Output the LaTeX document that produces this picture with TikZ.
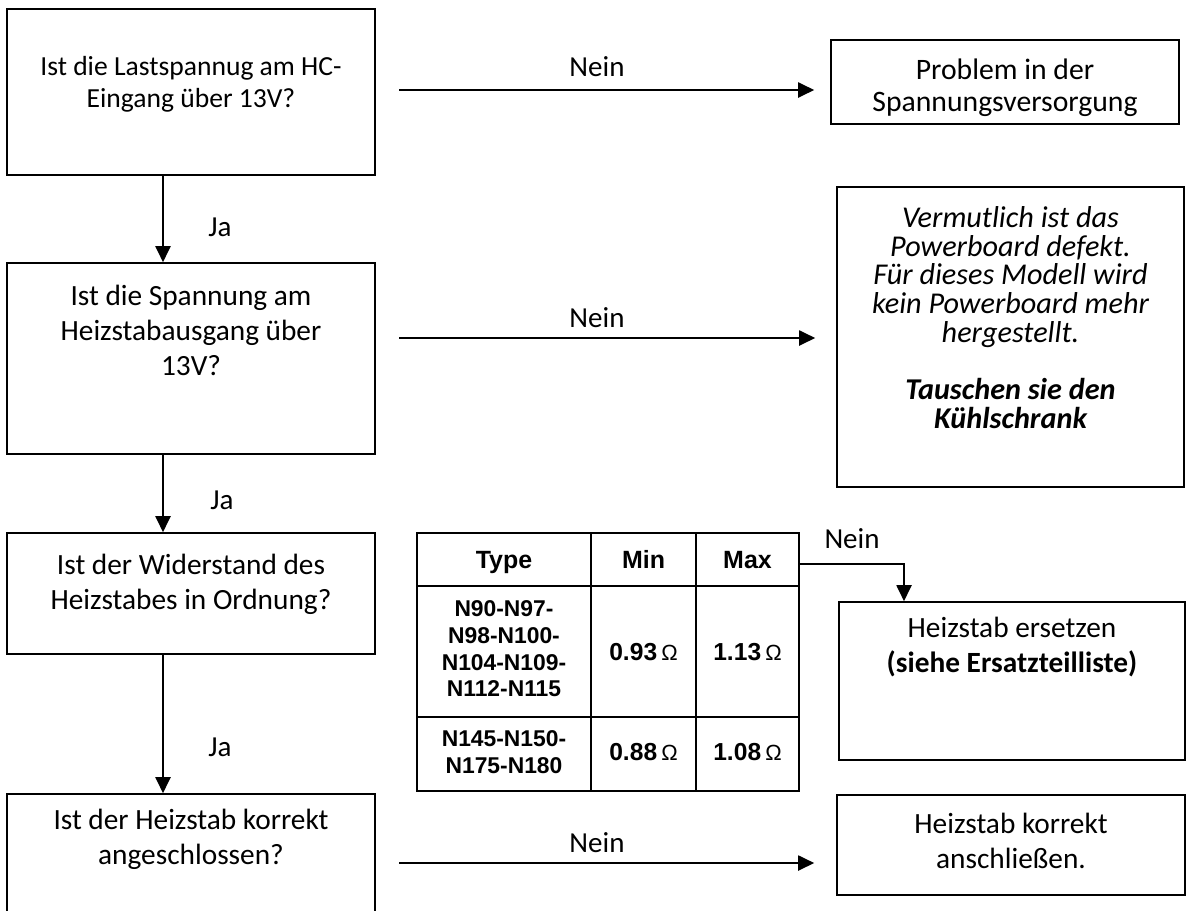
\documentclass[tikz,border=0pt]{standalone}
\usepackage{fontspec}
\setmainfont{Carlito}
\newfontfamily\tabfont{Liberation Sans}
\usetikzlibrary{arrows.meta,calc}
\tikzset{
  qbox/.style 2 args={draw,line width=0.9pt,minimum width=#1*0.02cm,minimum height=#2*0.02cm,inner sep=0pt},
  qtxt/.style={align=center,font=\fontsize{16.7}{19.9}\selectfont,inner sep=0pt},
  qtxtS/.style={align=center,font=\fontsize{15.7}{18.2}\selectfont,inner sep=0pt},
  qital/.style={align=center,font=\fontsize{17.2}{16.3}\selectfont\itshape,inner sep=0pt},
  qlab/.style={font=\fontsize{16.5}{19}\selectfont,inner sep=0pt},
  qarr/.style={-{Triangle[length=3.2mm,width=3mm]},line width=1.1pt},
  tcell/.style={align=center,font=\tabfont\bfseries\fontsize{13}{15.2}\selectfont,inner sep=0pt},
  thead/.style={anchor=base,font=\tabfont\bfseries\fontsize{14.2}{16}\selectfont,inner sep=0pt},
  tval/.style={anchor=base,font=\tabfont\bfseries\fontsize{14}{16}\selectfont,inner sep=0pt},
  tline/.style={line width=1.3pt},
}
\newcommand{\ohm}{{\fontsize{12.5}{12.5}\selectfont\mdseries Ω}}

\begin{document}
\begin{tikzpicture}[x=0.02cm,y=-0.02cm]
\useasboundingbox (0,0) rectangle (1186,910);
\clip (0,0) rectangle (1186,910);
\fill[white] (0,0) rectangle (1186,910);
% ---- question column
\node[qbox={368}{166}] (q1) at (191,92) {};
\node[qtxtS] (q1t) at (191,84) {Ist die Lastspannug am HC-\\Eingang über 13V?};
\node[qbox={368}{191}] (q2) at (191,358.5) {};
\node[qtxt] (q2t) at (191,330) {Ist die Spannung am\\Heizstabausgang über\\13V?};
\node[qbox={368}{121}] (q3) at (191,593.5) {};
\node[qtxt] (q3t) at (191,584.5) {Ist der Widerstand des\\Heizstabes in Ordnung?};
\node[qbox={368}{200}] (q4) at (191,894) {};
\node[qtxt] (q4t) at (191,839.5) {Ist der Heizstab korrekt\\angeschlossen?};
% ---- answer column
\node[qbox={348}{84}] (r1) at (1005,82) {};
\node[qtxtS,font=\fontsize{16.9}{18}\selectfont] (r1t) at (1005,87.5) {Problem in der\\Spannungsversorgung};
\node[qbox={347}{300}] (r2) at (1010.5,337) {};
\node[qital] (r2t) at (1010.5,317.5) {Vermutlich ist das\\Powerboard defekt.\\Für dieses Modell wird\\kein Powerboard mehr\\hergestellt.\\[16.3pt]\textbf{Tauschen sie den}\\\textbf{Kühlschrank}};
\node[qbox={346}{158}] (r3) at (1012,681) {};
\node[qtxt] (r3t) at (1012,647.5) {Heizstab ersetzen\\\textbf{(siehe Ersatzteilliste)}};
\node[qbox={348}{100}] (r4) at (1011,845) {};
\node[qtxt] (r4t) at (1011,840.5) {Heizstab korrekt\\anschließen.};
% ---- the resistance table
\node[draw,tline,minimum width=382*0.02cm,minimum height=258*0.02cm,inner sep=0pt] (tbl) at (608,662) {};
\draw[tline] (591,533) -- (591,791);
\draw[tline] (696,533) -- (696,791);
\draw[tline] (417,586) -- (799,586);
\draw[tline] (417,717) -- (799,717);
\node[thead] (th1) at (504,568) {Type};
\node[thead] (th2) at (643.5,568) {Min};
\node[thead] (th3) at (747.5,568) {Max};
\node[tcell] (ta1) at (504,649) {N90-N97-\\N98-N100-\\N104-N109-\\N112-N115};
\node[tval] (ta2) at (643.5,660) {0.93\,\ohm};
\node[tval] (ta3) at (747.5,660) {1.13\,\ohm};
\node[tcell] (tb1) at (504,752) {N145-N150-\\N175-N180};
\node[tval] (tb2) at (643.5,760) {0.88\,\ohm};
\node[tval] (tb3) at (747.5,760) {1.08\,\ohm};
% ---- Ja: down the left
\coordinate (spine) at (163,0);
\draw[qarr] (q1.south -| spine) -- (q2.north -| spine);
\draw[qarr] (q2.south -| spine) -- (q3.north -| spine);
\draw[qarr] (q3.south -| spine) -- (q4.north -| spine);
\node[qlab] (ja1) at (220,227) {Ja};
\node[qlab] (ja2) at (222,500) {Ja};
\node[qlab] (ja3) at (220,747) {Ja};
% ---- Nein: across to the right
\coordinate (n1) at (399,90);
\coordinate (n2) at (399,338);
\coordinate (n4) at (399,863);
\draw[qarr,shorten >=0.32cm] (n1) -- (n1 -| r1.west);
\draw[qarr,shorten >=0.42cm] (n2) -- (n2 -| r2.west);
\draw[qarr,shorten >=0.44cm] (n4) -- (n4 -| r4.west);
\node[qlab] (ne1) at (597,67) {Nein};
\node[qlab] (ne2) at (597,318) {Nein};
\node[qlab] (ne4) at (597,843) {Nein};
\coordinate (nk) at (904,564);
\draw[qarr] (tbl.east |- nk) -| (r3.north -| nk);
\node[qlab] (ne3) at (852,539) {Nein};
\end{tikzpicture}
\end{document}
